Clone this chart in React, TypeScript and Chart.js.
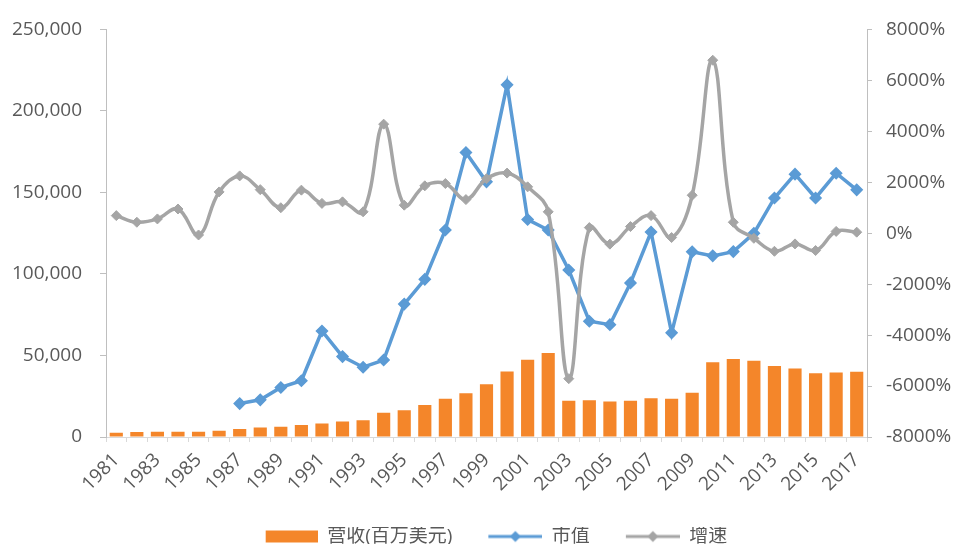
import React, { useEffect, useRef } from "react";
import { Chart, registerables } from "chart.js";

Chart.register(...registerables);

const years = [
  "1981", "1982", "1983", "1984", "1985", "1986", "1987", "1988", "1989", "1990",
  "1991", "1992", "1993", "1994", "1995", "1996", "1997", "1998", "1999", "2000",
  "2001", "2002", "2003", "2004", "2005", "2006", "2007", "2008", "2009", "2010",
  "2011", "2012", "2013", "2014", "2015", "2016", "2017",
];

const revenue = [
  2600, 3000, 3200, 3200, 3200, 3800, 4900, 5900, 6300, 7300,
  8300, 9500, 10300, 14800, 16400, 19600, 23500, 26800, 32400, 40100,
  47400, 51500, 22300, 22500, 21700, 22300, 23700, 23500, 27200, 45800,
  47900, 46800, 43600, 42000, 39100, 39500, 40000,
];

const marketCap = [
  null, null, null, null, null, null, 20500, 22800, 30400, 34500,
  65000, 49300, 42800, 47200, 81500, 96700, 127000, 174500, 156500, 216000,
  133400, 127000, 102400, 71000, 68900, 94500, 125700, 63900, 113600, 111100,
  113700, 124900, 146600, 161200, 146600, 161800, 151600,
];

const growth = [
  690, 430, 560, 950, -70, 1620, 2250, 1710, 1000, 1690,
  1170, 1230, 840, 4280, 1100, 1860, 1950, 1320, 2140, 2360,
  1820, 840, -5710, 220, -430, 260, 690, -170, 1490, 6790,
  430, -200, -710, -420, -680, 70, 40,
];

const seriesNames = ["营收(百万美元)", "市值", "增速"];

const ORANGE = "#f4862a";
const BLUE = "#5b9bd5";
const GRAY = "#a5a5a5";
const TEXT = "#595959";
const AXIS = "#bfbfbf";
const FONT = "'Open Sans', 'Noto Sans CJK SC', sans-serif";
const LEGEND_W = 90;

function makeLegendIcon(kind: "bar" | "line", color: string): HTMLCanvasElement {
  const c = document.createElement("canvas");
  c.width = LEGEND_W;
  c.height = 14;
  const ctx = c.getContext("2d")!;
  if (kind === "bar") {
    ctx.fillStyle = color;
    ctx.fillRect(LEGEND_W - 52, 1, 52, 12);
  } else {
    ctx.strokeStyle = color;
    ctx.lineWidth = 3;
    ctx.beginPath();
    ctx.moveTo(LEGEND_W - 54, 7);
    ctx.lineTo(LEGEND_W, 7);
    ctx.stroke();
    const cx = LEGEND_W - 27;
    ctx.fillStyle = color;
    ctx.beginPath();
    ctx.moveTo(cx, 1.5);
    ctx.lineTo(cx + 5.5, 7);
    ctx.lineTo(cx, 12.5);
    ctx.lineTo(cx - 5.5, 7);
    ctx.closePath();
    ctx.fill();
  }
  return c;
}

export default function App() {
  const ref = useRef<HTMLCanvasElement>(null);

  useEffect(() => {
    if (!ref.current) return;
    const icons = [
      makeLegendIcon("bar", ORANGE),
      makeLegendIcon("line", BLUE),
      makeLegendIcon("line", GRAY),
    ];
    const colors = [ORANGE, BLUE, GRAY];
    const chart = new Chart(ref.current, {
      type: "bar",
      data: {
        labels: years,
        datasets: [
          {
            type: "bar",
            label: seriesNames[0],
            data: revenue,
            backgroundColor: ORANGE,
            borderWidth: 0,
            barPercentage: 0.64,
            categoryPercentage: 1,
            yAxisID: "y",
            order: 3,
          },
          {
            type: "line",
            label: seriesNames[1],
            data: marketCap as any,
            borderColor: BLUE,
            backgroundColor: BLUE,
            borderWidth: 3.5,
            pointStyle: "rectRot",
            pointRadius: 5.5,
            pointBorderWidth: 1.5,
            tension: 0,
            yAxisID: "y",
            order: 2,
          },
          {
            type: "line",
            label: seriesNames[2],
            data: growth,
            borderColor: GRAY,
            backgroundColor: GRAY,
            borderWidth: 3.5,
            pointStyle: "rectRot",
            pointRadius: 5,
            pointBorderWidth: 1,
            tension: 0.4,
            yAxisID: "y1",
            order: 1,
          },
        ],
      },
      options: {
        responsive: false,
        animation: false,
        devicePixelRatio: 1,
        layout: { padding: { top: 25, bottom: -12, left: 0, right: 0 } },
        plugins: {
          tooltip: { enabled: false },
          legend: {
            position: "bottom",
            labels: {
              usePointStyle: true,
              pointStyleWidth: LEGEND_W,
              padding: 0,
              color: TEXT,
              font: { family: FONT, size: 19 },
              generateLabels: () =>
                seriesNames.map((name, i) => ({
                  text: name,
                  fillStyle: colors[i],
                  strokeStyle: colors[i],
                  lineWidth: 0,
                  pointStyle: icons[i] as any,
                  rotation: 0,
                  hidden: false,
                  datasetIndex: i,
                  fontColor: TEXT,
                })),
            },
          },
        },
        scales: {
          x: {
            offset: true,
            grid: {
              offset: true,
              drawOnChartArea: false,
              drawTicks: true,
              tickLength: 5,
              color: "#d9d9d9",
            },
            border: { display: true, color: "#d9d9d9", width: 1 },
            ticks: {
              autoSkip: false,
              maxRotation: 45,
              minRotation: 45,
              padding: 7,
              color: TEXT,
              font: { family: FONT, size: 19 },
              callback: (_v: any, i: number) => (i % 2 === 0 ? years[i] : ""),
            },
            afterFit: (s: any) => {
              s.height = 90;
            },
          },
          y: {
            position: "left",
            min: 0,
            max: 250000,
            grid: {
              drawOnChartArea: false,
              drawTicks: true,
              tickLength: 6,
              color: AXIS,
            },
            border: { display: true, color: AXIS, width: 1 },
            ticks: {
              stepSize: 50000,
              padding: 18,
              color: TEXT,
              font: { family: FONT, size: 19 },
              callback: (v: any) => Number(v).toLocaleString("en-US"),
            },
            afterFit: (s: any) => {
              s.width = 106;
            },
          },
          y1: {
            position: "right",
            min: -8000,
            max: 8000,
            grid: {
              drawOnChartArea: false,
              drawTicks: true,
              tickLength: 5,
              color: AXIS,
            },
            border: { display: true, color: AXIS, width: 1 },
            ticks: {
              stepSize: 2000,
              padding: 14,
              color: TEXT,
              font: { family: FONT, size: 19 },
              callback: (v: any) => `${v}%`,
            },
            afterFit: (s: any) => {
              s.width = 88;
            },
          },
        },
      },
    });
    return () => chart.destroy();
  }, []);

  return (
    <div style={{ position: "absolute", left: 0, top: 0, width: 955, height: 544 }}>
      <canvas ref={ref} width={955} height={544} style={{ display: "block" }} />
    </div>
  );
}
